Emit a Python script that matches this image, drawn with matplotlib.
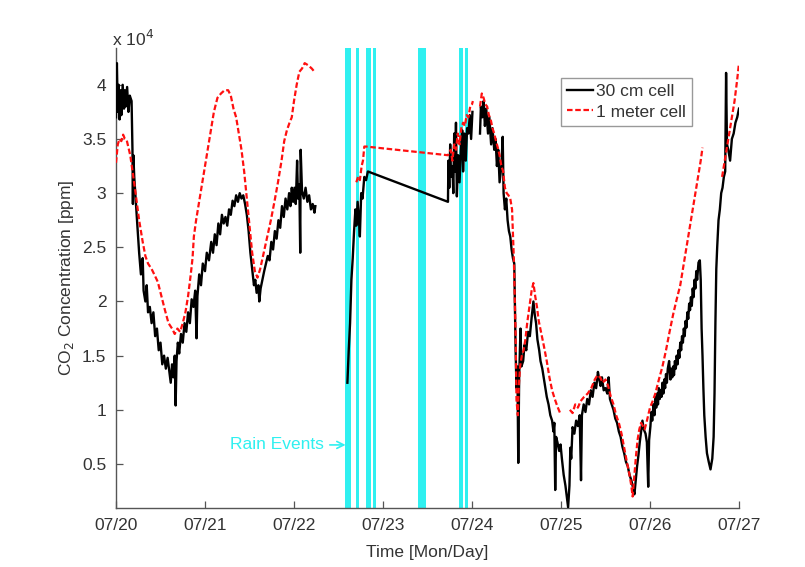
import numpy as np
import matplotlib
matplotlib.use("Agg")
import matplotlib.pyplot as plt
from matplotlib.ticker import FuncFormatter

plt.rcParams['font.family'] = ['Liberation Sans', 'DejaVu Sans']

# time axis: days since 07/20 00:00
day_ticks = [0, 1, 2, 3, 4, 5, 6, 7]
day_labels = ['07/20', '07/21', '07/22', '07/23', '07/24', '07/25', '07/26', '07/27']
conc_ticks = [0.5, 1, 1.5, 2, 2.5, 3, 3.5, 4]   # x 10^4 ppm

# 30 cm cell CO2 (day, ppm x 1e4); None marks a break in the record
cell_30cm = [
    (0.000, 3.70), (0.010, 4.20), (0.020, 3.75), (0.030, 4.00), (0.040, 3.68),
    (0.050, 3.95), (0.060, 3.72), (0.075, 4.00), (0.090, 3.78), (0.100, 3.95),
    (0.110, 3.80), (0.125, 3.98), (0.140, 3.75), (0.155, 3.90), (0.175, 3.85),
    (0.185, 3.40), (0.190, 2.90), (0.195, 3.35), (0.205, 3.15), (0.220, 2.95),
    (0.240, 2.70), (0.260, 2.45), (0.280, 2.25), (0.300, 2.40), (0.310, 2.10),
    (0.330, 2.00), (0.345, 2.15), (0.360, 1.90), (0.380, 1.95), (0.400, 1.80),
    (0.420, 1.90), (0.440, 1.68), (0.460, 1.75), (0.480, 1.55), (0.500, 1.62),
    (0.520, 1.42), (0.540, 1.50), (0.560, 1.38), (0.580, 1.48), (0.600, 1.35),
    (0.615, 1.25), (0.630, 1.42), (0.645, 1.30), (0.660, 1.50), (0.670, 1.04),
    (0.680, 1.45), (0.695, 1.62), (0.710, 1.52), (0.730, 1.70), (0.750, 1.62),
    (0.770, 1.80), (0.790, 1.72), (0.810, 1.90), (0.830, 1.80), (0.850, 2.02),
    (0.870, 1.95), (0.890, 2.10), (0.905, 1.66), (0.915, 2.05), (0.935, 2.25),
    (0.955, 2.15), (0.975, 2.35), (1.000, 2.28), (1.020, 2.45), (1.045, 2.38),
    (1.070, 2.55), (1.090, 2.45), (1.110, 2.62), (1.130, 2.52), (1.150, 2.72),
    (1.170, 2.62), (1.190, 2.80), (1.210, 2.72), (1.230, 2.78), (1.250, 2.70),
    (1.270, 2.85), (1.290, 2.80), (1.310, 2.93), (1.330, 2.88), (1.350, 2.98),
    (1.370, 2.92), (1.390, 3.00), (1.410, 2.95), (1.430, 2.98), (1.450, 2.90),
    (1.470, 2.80), (1.490, 2.65), (1.510, 2.45), (1.530, 2.30), (1.550, 2.15),
    (1.565, 2.20), (1.580, 2.08), (1.600, 2.15), (1.610, 2.00), (1.625, 2.12),
    (1.645, 2.20), (1.665, 2.28), (1.685, 2.35), (1.705, 2.42), (1.725, 2.38),
    (1.745, 2.55), (1.765, 2.48), (1.785, 2.65), (1.805, 2.58), (1.825, 2.75),
    (1.845, 2.68), (1.865, 2.88), (1.885, 2.78), (1.905, 2.95), (1.925, 2.85),
    (1.945, 3.00), (1.960, 2.88), (1.975, 3.05), (1.990, 2.92), (2.005, 3.05),
    (2.020, 2.90), (2.035, 3.30), (2.045, 2.95), (2.060, 3.08), (2.070, 2.45),
    (2.075, 3.40), (2.090, 3.02), (2.110, 2.95), (2.130, 3.05), (2.150, 2.92),
    (2.170, 2.98), (2.190, 2.85), (2.210, 2.90), (2.230, 2.82), (2.240, 2.88),
    None,
    (2.600, 1.25), (2.615, 1.55), (2.630, 1.80), (2.645, 2.20), (2.660, 2.40),
    (2.675, 2.65), (2.690, 2.85), (2.700, 2.70), (2.715, 2.92), (2.730, 2.75),
    (2.740, 2.60), (2.755, 3.00), (2.770, 2.95), (2.790, 3.15), (2.810, 3.12),
    (2.830, 3.20),
    (3.730, 2.92), (3.735, 3.30), (3.745, 3.05), (3.755, 3.45), (3.765, 3.15),
    (3.780, 3.25), (3.790, 3.00), (3.800, 3.55), (3.810, 3.20), (3.820, 3.65),
    (3.830, 2.97), (3.845, 3.35), (3.860, 3.10), (3.875, 3.40), (3.890, 3.58),
    (3.900, 3.20), (3.915, 3.55), (3.930, 3.30), (3.945, 3.60), (3.960, 3.55),
    (3.975, 3.72), (3.990, 3.50), (4.005, 3.75),
    None,
    (4.090, 3.55), (4.100, 3.80), (4.115, 3.70), (4.130, 3.85), (4.145, 3.62),
    (4.160, 3.78), (4.180, 3.55), (4.195, 3.70), (4.215, 3.45), (4.230, 3.60),
    (4.250, 3.40), (4.265, 3.50), (4.280, 3.25), (4.295, 3.40), (4.310, 3.10),
    (4.330, 3.25), (4.345, 3.52), (4.355, 3.00), (4.370, 2.85), (4.385, 2.95),
    (4.400, 2.75), (4.415, 2.65), (4.430, 2.60), (4.445, 2.48), (4.460, 2.40),
    (4.475, 2.35), (4.490, 1.55), (4.500, 1.20), (4.510, 1.40), (4.520, 0.51),
    (4.530, 1.30), (4.545, 1.75), (4.555, 1.40), (4.575, 1.45), (4.590, 1.60),
    (4.610, 1.55), (4.630, 1.72), (4.650, 1.68), (4.670, 1.85), (4.690, 2.00),
    (4.705, 1.88), (4.720, 1.80), (4.735, 1.65), (4.755, 1.55), (4.770, 1.45),
    (4.790, 1.38), (4.805, 1.30), (4.825, 1.20), (4.840, 1.12), (4.860, 1.05),
    (4.880, 0.95), (4.900, 0.90), (4.915, 0.80), (4.925, 0.88), (4.935, 0.26),
    (4.945, 0.75), (4.960, 0.70), (4.980, 0.62), (4.995, 0.68), (5.010, 0.55),
    (5.030, 0.40), (5.050, 0.30), (5.065, 0.20), (5.080, 0.10), (5.095, 0.30),
    (5.105, 0.65), (5.115, 0.55), (5.130, 0.84), (5.150, 0.78), (5.170, 0.90),
    (5.190, 0.85), (5.210, 0.95), (5.225, 0.35), (5.235, 0.95), (5.255, 1.05),
    (5.275, 0.98), (5.295, 1.10), (5.315, 1.05), (5.335, 1.18), (5.355, 1.12),
    (5.375, 1.25), (5.395, 1.20), (5.415, 1.35), (5.430, 1.28), (5.445, 1.22),
    (5.460, 1.30), (5.480, 1.18), (5.500, 1.20), (5.520, 1.15), (5.535, 1.30),
    (5.550, 1.10), (5.570, 1.05), (5.590, 1.00), (5.610, 0.92), (5.630, 0.88),
    (5.650, 0.80), (5.670, 0.75), (5.690, 0.66), (5.710, 0.60), (5.730, 0.52),
    (5.750, 0.48), (5.770, 0.40), (5.790, 0.35), (5.810, 0.28), (5.825, 0.22),
    (5.840, 0.35), (5.855, 0.48), (5.870, 0.58), (5.885, 0.70), (5.900, 0.80),
    (5.915, 0.90), (5.930, 0.82), (5.950, 0.78), (5.965, 0.70), (5.980, 0.29),
    (5.990, 0.72), (6.005, 0.85), (6.015, 0.98), (6.025, 0.90), (6.040, 1.05),
    (6.050, 0.95), (6.060, 1.12), (6.070, 1.02), (6.080, 1.15), (6.090, 1.05),
    (6.100, 1.20), (6.110, 1.10), (6.120, 1.18), (6.130, 1.12), (6.140, 1.25),
    (6.150, 1.15), (6.160, 1.28), (6.170, 1.20), (6.180, 1.33), (6.190, 1.25),
    (6.200, 1.38), (6.215, 1.45), (6.230, 1.28), (6.240, 1.38), (6.250, 1.30),
    (6.260, 1.40), (6.270, 1.32), (6.280, 1.45), (6.290, 1.38), (6.300, 1.50),
    (6.310, 1.42), (6.320, 1.55), (6.330, 1.48), (6.340, 1.62), (6.350, 1.55),
    (6.360, 1.68), (6.370, 1.62), (6.380, 1.75), (6.390, 1.68), (6.400, 1.82),
    (6.410, 1.76), (6.420, 1.90), (6.430, 1.84), (6.440, 1.98), (6.450, 1.92),
    (6.460, 2.04), (6.470, 1.96), (6.480, 2.12), (6.490, 2.04), (6.500, 2.20),
    (6.510, 2.12), (6.520, 2.28), (6.530, 2.20), (6.545, 2.36), (6.560, 2.38),
    (6.570, 2.20), (6.580, 1.75), (6.590, 1.50), (6.600, 1.20),
    (6.610, 0.95), (6.625, 0.75), (6.640, 0.60), (6.660, 0.52), (6.680, 0.45),
    (6.700, 0.55), (6.715, 0.75), (6.725, 1.15), (6.735, 1.80), (6.745, 2.30),
    (6.755, 2.50), (6.770, 2.75), (6.785, 2.85), (6.800, 3.00), (6.815, 3.05),
    (6.830, 3.15), (6.845, 3.20), (6.855, 4.11), (6.865, 3.45), (6.880, 3.40),
    (6.900, 3.30), (6.920, 3.50), (6.940, 3.55), (6.960, 3.65), (6.980, 3.70),
    (7.000, 3.78),
]

# 1 meter cell CO2 (day, ppm x 1e4)
cell_1m = [
    (0.000, 3.28), (0.020, 3.45), (0.040, 3.50), (0.060, 3.48), (0.080, 3.54),
    (0.100, 3.50), (0.120, 3.49), (0.140, 3.42), (0.160, 3.35), (0.190, 3.18),
    (0.220, 3.00), (0.260, 2.75), (0.300, 2.55), (0.330, 2.42), (0.360, 2.35),
    (0.400, 2.30), (0.430, 2.25), (0.470, 2.18), (0.510, 2.05), (0.550, 1.92),
    (0.590, 1.80), (0.630, 1.75), (0.660, 1.70), (0.690, 1.75), (0.720, 1.72),
    (0.750, 1.80), (0.780, 1.90), (0.810, 2.05), (0.840, 2.25), (0.860, 2.40),
    (0.875, 2.60), (0.900, 2.75), (0.940, 2.95), (0.980, 3.15), (1.020, 3.35),
    (1.060, 3.55), (1.100, 3.75), (1.140, 3.88), (1.180, 3.92), (1.220, 3.95),
    (1.260, 3.95), (1.290, 3.90), (1.320, 3.78), (1.350, 3.70), (1.380, 3.55),
    (1.410, 3.40), (1.440, 3.20), (1.470, 2.95), (1.500, 2.70), (1.530, 2.45),
    (1.560, 2.28), (1.590, 2.22), (1.620, 2.30), (1.660, 2.45), (1.700, 2.60),
    (1.740, 2.75), (1.780, 2.92), (1.820, 3.10), (1.860, 3.30), (1.890, 3.48),
    (1.920, 3.58), (1.950, 3.65), (1.975, 3.70), (2.000, 3.85), (2.030, 4.00),
    (2.060, 4.12), (2.090, 4.15), (2.120, 4.20), (2.160, 4.18), (2.200, 4.15),
    (2.230, 4.12),
    None,
    (2.700, 3.10), (2.720, 3.15), (2.740, 3.12), (2.760, 3.25), (2.775, 3.30),
    (2.790, 3.43), (2.810, 3.43),
    (3.730, 3.35), (3.760, 3.40), (3.780, 3.30), (3.800, 3.45), (3.820, 3.40),
    (3.840, 3.55), (3.860, 3.45), (3.880, 3.60), (3.900, 3.65), (3.920, 3.62),
    (3.940, 3.72), (3.960, 3.70), (3.980, 3.80), (4.000, 3.82), (4.010, 3.85),
    None,
    (4.090, 3.80), (4.110, 3.92), (4.130, 3.88), (4.150, 3.82), (4.170, 3.80),
    (4.190, 3.72), (4.210, 3.68), (4.230, 3.60), (4.250, 3.55), (4.270, 3.48),
    (4.290, 3.42), (4.310, 3.35), (4.330, 3.25), (4.350, 3.20), (4.370, 3.05),
    (4.390, 3.00), (4.410, 2.98), (4.430, 2.95), (4.450, 2.85), (4.470, 2.40),
    (4.490, 1.70), (4.500, 1.09), (4.515, 0.95), (4.525, 1.20), (4.540, 1.40),
    (4.560, 1.50), (4.580, 1.55), (4.600, 1.65), (4.620, 1.80), (4.645, 1.95),
    (4.670, 2.10), (4.690, 2.17), (4.710, 2.05), (4.730, 1.95), (4.750, 1.82),
    (4.780, 1.70), (4.810, 1.58), (4.840, 1.45), (4.870, 1.30), (4.900, 1.18),
    (4.930, 1.10), (4.960, 1.03), (4.990, 0.97),
    None,
    (5.100, 1.00), (5.130, 0.97), (5.160, 1.05), (5.190, 1.02), (5.220, 1.08),
    (5.260, 1.12), (5.300, 1.15), (5.340, 1.20), (5.380, 1.28), (5.410, 1.32),
    (5.440, 1.30), (5.470, 1.25), (5.500, 1.28), (5.530, 1.22), (5.560, 1.12),
    (5.590, 1.05), (5.620, 0.95), (5.650, 0.88), (5.680, 0.78), (5.710, 0.65),
    (5.740, 0.52), (5.770, 0.40), (5.790, 0.30), (5.805, 0.20), (5.820, 0.35),
    (5.840, 0.55), (5.860, 0.72), (5.880, 0.82), (5.900, 0.88), (5.920, 0.85),
    (5.940, 0.82), (5.960, 0.88), (5.980, 0.95), (6.000, 1.02), (6.030, 1.08),
    (6.060, 1.15), (6.100, 1.28), (6.140, 1.40), (6.180, 1.55), (6.220, 1.72),
    (6.260, 1.88), (6.300, 2.02), (6.340, 2.15), (6.380, 2.35), (6.420, 2.55),
    (6.460, 2.75), (6.500, 2.95), (6.540, 3.15), (6.570, 3.30), (6.590, 3.42),
    None,
    (6.810, 3.15), (6.830, 3.25), (6.860, 3.40), (6.890, 3.55), (6.920, 3.70),
    (6.950, 3.85), (6.980, 4.05), (7.000, 4.20),
]

# rain events (start day, end day)
rain_events = [
    (2.573, 2.640), (2.697, 2.730), (2.809, 2.865), (2.888, 2.921),
    (3.393, 3.483), (3.854, 3.899), (3.921, 3.955),
]


def unpack(points):
    t = np.array([np.nan if p is None else p[0] for p in points])
    v = np.array([np.nan if p is None else p[1] for p in points]) * 1e4
    return t, v


fig = plt.figure(figsize=(8.05, 5.67), dpi=100)
ax = fig.add_axes([0.1441, 0.1041, 0.7739, 0.8113])

rain_color = '#2ff0f0'
for t0, t1 in rain_events:
    ax.axvspan(t0, t1, color=rain_color, lw=0, zorder=1)

t30, v30 = unpack(cell_30cm)
t1m, v1m = unpack(cell_1m)
ax.plot(t30, v30, color='black', lw=1.7, zorder=3, label='30 cm cell')
ax.plot(t1m, v1m, color='#ff1010', lw=1.6, ls=(0, (2.5, 1.2)), zorder=4,
        label='1 meter cell')

ax.set_xlim(0, 7)
ax.set_ylim(940, 43400)
ax.set_xticks(day_ticks)
ax.set_xticklabels(day_labels)
ax.set_yticks([c * 1e4 for c in conc_ticks])
ax.yaxis.set_major_formatter(FuncFormatter(lambda v, p: '%g' % (v / 1e4)))

for side in ('top', 'right'):
    ax.spines[side].set_visible(False)
for side in ('left', 'bottom'):
    ax.spines[side].set_color('#555555')
    ax.spines[side].set_linewidth(1.0)
ax.tick_params(direction='in', length=5, width=0.9, color='#555555',
               labelsize=12.5, labelcolor='#333333', pad=7)

ax.set_xlabel('Time [Mon/Day]', fontsize=12.5, color='#333333', labelpad=9)
ax.set_ylabel(r'CO$_2$ Concentration [ppm]', fontsize=12.5, color='#333333',
              labelpad=4)

fig.text(0.139, 0.913, r'x 10$^4$', fontsize=12.5, color='#333333',
         ha='left', va='bottom')

ax.annotate('Rain Events', xy=(2.58, 6760), xytext=(2.34, 6760),
            color=rain_color, fontsize=12.5, ha='right', va='center',
            arrowprops=dict(arrowstyle='->', color=rain_color, lw=1.2,
                            shrinkA=2, shrinkB=0))

leg = ax.legend(loc='upper right', bbox_to_anchor=(0.9246, 0.9348),
                borderaxespad=0, fancybox=False, framealpha=1,
                edgecolor='#999999', fontsize=12.5, handlelength=1.5,
                handletextpad=0.15, borderpad=0.35, labelspacing=0.3)
leg.get_frame().set_linewidth(1.0)
for txt in leg.get_texts():
    txt.set_color('#333333')

fig.savefig('out.png', dpi=100)
